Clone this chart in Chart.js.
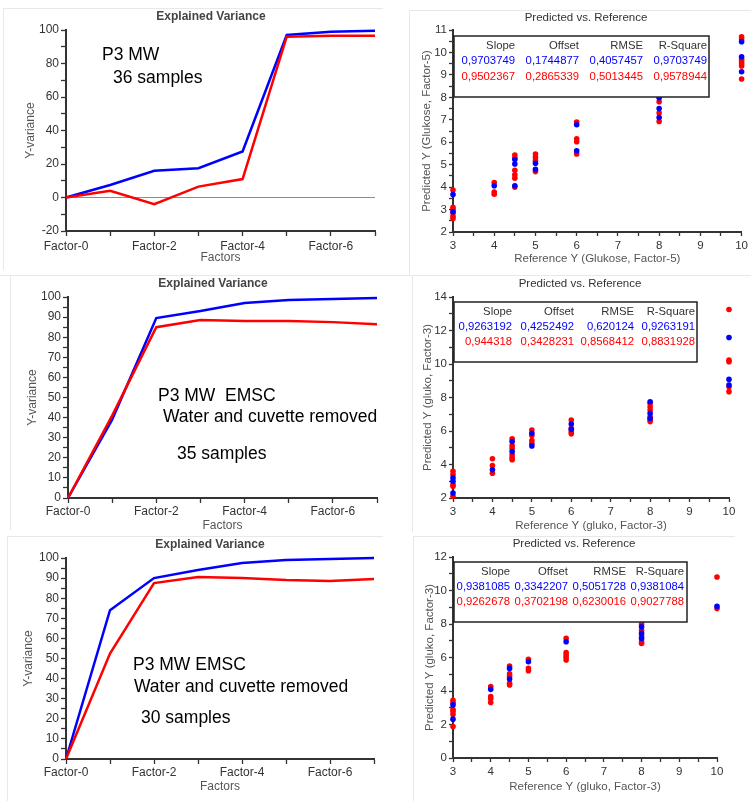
<!DOCTYPE html>
<html>
<head>
<meta charset="utf-8">
<script src="https://cdn.jsdelivr.net/npm/chart.js@4/dist/chart.umd.min.js"></script>
<style>
  html, body { margin: 0; padding: 0; background: #fff; }
  #wrap { position: relative; width: 751px; height: 801px; overflow: hidden; background: #fff; }
  #wrap canvas { position: absolute; left: 0; top: 0; }
  .rule { position: absolute; background: #e8e8e8; }
</style>
</head>
<body>
<div id="wrap">
  <div class="rule" style="left:3px;top:8px;width:1px;height:262px"></div>
  <div class="rule" style="left:3px;top:8px;width:380px;height:1px"></div>
  <div class="rule" style="left:409px;top:10px;width:1px;height:265px"></div>
  <div class="rule" style="left:409px;top:10px;width:342px;height:1px"></div>
  <div class="rule" style="left:0;top:275px;width:751px;height:1px"></div>
  <div class="rule" style="left:10px;top:276px;width:1px;height:254px"></div>
  <div class="rule" style="left:412px;top:276px;width:1px;height:256px"></div>
  <div class="rule" style="left:7px;top:536px;width:1px;height:265px"></div>
  <div class="rule" style="left:7px;top:536px;width:376px;height:1px"></div>
  <div class="rule" style="left:413px;top:536px;width:1px;height:265px"></div>
  <div class="rule" style="left:413px;top:536px;width:322px;height:1px"></div>
  <canvas id="c1" width="751" height="801"></canvas>
  <canvas id="c2" width="751" height="801"></canvas>
  <canvas id="c3" width="751" height="801"></canvas>
  <canvas id="c4" width="751" height="801"></canvas>
  <canvas id="c5" width="751" height="801"></canvas>
  <canvas id="c6" width="751" height="801"></canvas>
</div>
<script>
// ---- Explained variance curves (calibration = blue, validation = red) ----
const factorLabels = ['Factor-0', 'Factor-1', 'Factor-2', 'Factor-3', 'Factor-4', 'Factor-5', 'Factor-6', 'Factor-7'];

const calVar1 = [0, 7.5, 16, 17.5, 27.5, 97, 99, 99.5];
const valVar1 = [0, 4, -4, 6.5, 11, 96, 96.5, 96.5];

const calVar3 = [0, 39, 89.5, 93, 97, 98.5, 99, 99.5];
const valVar3 = [0, 41, 85, 88.5, 88, 88, 87.5, 86.5];

const calVar5 = [0, 74, 90, 94, 97.5, 99, 99.5, 100];
const valVar5 = [0, 52.5, 87.5, 90.5, 90, 89, 88.5, 89.5];

// ---- Predicted vs. reference (Glukose, Factor-5) ----
const calRef2  = [3, 3, 4, 4.5, 4.5, 4.5, 5, 5, 6, 6, 8, 8, 8, 10, 10, 10];
const calPred2 = [3.67, 2.9, 4.06, 5.23, 5.03, 4.06, 5.06, 4.79, 6.78, 5.62, 7.98, 7.5, 7.1, 10.48, 9.81, 9.14];
const valRef2  = [3, 3, 3, 3, 3, 3, 4, 4, 4, 4.5, 4.5, 4.5, 4.5, 4.5, 4.5, 5, 5, 5, 5, 6, 6, 6, 6, 8, 8, 8, 8, 10, 10, 10, 10, 10, 10, 10];
const valPred2 = [3.87, 3.1, 3.0, 2.85, 2.7, 2.6, 4.2, 3.78, 3.68, 5.43, 5.3, 4.75, 4.55, 4.4, 4.0, 5.47, 5.33, 5.18, 4.69, 6.9, 6.15, 6.02, 5.48, 8.03, 7.8, 7.3, 6.92, 10.7, 10.6, 9.7, 9.6, 9.5, 9.4, 8.82];

// ---- Predicted vs. reference (gluko, Factor-3), 35 samples ----
const calRef4  = [3, 3, 3, 4, 4.5, 4.5, 5, 5, 6, 6, 8, 8, 8, 10, 10, 10];
const calPred4 = [3.2, 3.0, 2.3, 3.68, 5.37, 4.77, 5.87, 5.11, 6.42, 6.1, 7.75, 7.06, 6.75, 11.58, 9.08, 8.74];
const valRef4  = [3, 3, 3, 3, 3, 4, 4, 4, 4.5, 4.5, 4.5, 4.5, 4.5, 4.5, 5, 5, 5, 5, 6, 6, 6, 6, 8, 8, 8, 8, 8, 8, 10, 10, 10, 10, 10];
const valPred4 = [3.6, 3.4, 2.8, 2.7, 2.1, 4.34, 3.94, 3.48, 5.53, 5.13, 4.97, 4.58, 4.42, 4.28, 6.06, 5.73, 5.43, 5.27, 6.66, 6.16, 5.96, 5.83, 7.65, 7.45, 7.25, 6.86, 6.7, 6.56, 13.25, 10.23, 10.13, 8.64, 8.35];

// ---- Predicted vs. reference (gluko, Factor-3), 30 samples ----
const calRef6  = [3, 3, 4, 4.5, 4.5, 5, 6, 8, 8, 8, 10];
const calPred6 = [3.17, 2.32, 4.1, 5.35, 4.72, 5.75, 6.94, 7.83, 7.44, 7.14, 9.06];
const valRef6  = [3, 3, 3, 3, 3, 3, 4, 4, 4, 4, 4.5, 4.5, 4.5, 4.5, 4.5, 5, 5, 5, 6, 6, 6, 6, 6, 8, 8, 8, 8, 8, 10, 10];
const valPred6 = [3.45, 3.3, 2.9, 2.77, 2.6, 1.88, 4.26, 3.67, 3.53, 3.31, 5.49, 5.02, 4.86, 4.46, 4.36, 5.89, 5.35, 5.21, 7.14, 6.29, 6.15, 6.01, 5.85, 7.99, 7.63, 7.28, 6.94, 6.84, 10.81, 8.92];

// ---- Regression statistics tables ----
const statHeads = ['Slope', 'Offset', 'RMSE', 'R-Square'];
const statCal2 = ['0,9703749', '0,1744877', '0,4057457', '0,9703749'];
const statVal2 = ['0,9502367', '0,2865339', '0,5013445', '0,9578944'];
const statCal4 = ['0,9263192', '0,4252492', '0,620124', '0,9263191'];
const statVal4 = ['0,944318', '0,3428231', '0,8568412', '0,8831928'];
const statCal6 = ['0,9381085', '0,3342207', '0,5051728', '0,9381084'];
const statVal6 = ['0,9262678', '0,3702198', '0,6230016', '0,9027788'];

const BLUE = '#0000ff';
const RED = '#ff0000';
const AXIS = '#333333';
const FONT = '"Liberation Sans", Arial, sans-serif';
const PAGE_W = 751, PAGE_H = 801;

Chart.defaults.font.family = FONT;
Chart.defaults.color = '#333';

// Draws panel titles, free text and the statistics box on top of each chart.
const panelText = {
  id: 'panelText',
  afterDraw(chart, args, opts) {
    const ctx = chart.ctx;
    ctx.save();
    const box = opts.box;
    if (box) {
      ctx.fillStyle = '#fff';
      ctx.fillRect(box.left, box.top, box.right - box.left, box.bottom - box.top);
      ctx.strokeStyle = '#222';
      ctx.lineWidth = 1.5;
      ctx.strokeRect(box.left, box.top, box.right - box.left, box.bottom - box.top);
      ctx.font = '11.3px ' + FONT;
      ctx.textAlign = 'right';
      ctx.textBaseline = 'middle';
      const rows = [[statHeads, '#333'], [box.cal, BLUE], [box.val, RED]];
      rows.forEach((r, i) => {
        ctx.fillStyle = r[1];
        r[0].forEach((txt, j) => ctx.fillText(txt, box.cols[j], box.rows[i]));
      });
    }
    (opts.items || []).forEach(t => {
      ctx.font = t.font;
      ctx.fillStyle = t.color || '#000';
      ctx.textAlign = t.align || 'left';
      ctx.textBaseline = t.baseline || 'alphabetic';
      ctx.fillText(t.text, t.x, t.y);
    });
    ctx.restore();
  }
};

function frame(area, yW, xH) {
  return {
    left: area.x0 - yW,
    top: area.y0,
    right: PAGE_W - area.x1,
    bottom: PAGE_H - area.y1 - xH
  };
}

function axisCommon(tickLen, pad, fontSize) {
  return {
    border: { display: true, color: AXIS, width: 2 },
    grid: { display: true, drawOnChartArea: false, drawTicks: true, tickLength: tickLen, tickColor: AXIS, tickWidth: 1.3 },
    ticks: { autoSkip: false, maxRotation: 0, padding: pad, color: '#333', font: { size: fontSize } }
  };
}

function varianceChart(id, cal, val, yMin, yStep, labelStep, area, yW, xH, xPad, items, zeroLine) {
  const xAx = axisCommon(5, xPad, 12);
  xAx.type = 'category';
  xAx.offset = false;
  xAx.grid.offset = false;
  xAx.ticks.callback = function (v, i) { return i % 2 === 0 ? this.getLabelForValue(v) : ''; };
  xAx.title = { display: true, text: 'Factors', color: '#555', font: { size: 12 }, padding: 0 };
  xAx.afterFit = s => { s.height = xH; };

  const yAx = axisCommon(5, 2, 12);
  yAx.type = 'linear';
  yAx.min = yMin;
  yAx.max = 100;
  yAx.ticks.stepSize = yStep;
  yAx.ticks.callback = v => (Math.round(v) % labelStep === 0 ? v : '');
  yAx.title = { display: true, text: 'Y-variance', color: '#555', font: { size: 12 }, padding: 0 };
  yAx.afterFit = s => { s.width = yW; };
  if (zeroLine) {
    yAx.grid.drawOnChartArea = true;
    yAx.grid.color = c => (c.tick && c.tick.value === 0 ? '#8c8c8c' : 'rgba(0,0,0,0)');
    yAx.grid.lineWidth = 1;
  }

  return new Chart(document.getElementById(id), {
    type: 'line',
    data: {
      labels: factorLabels,
      datasets: [
        { label: 'Validation', data: val, borderColor: RED, borderWidth: 2.5, pointRadius: 0, tension: 0, fill: false, clip: false },
        { label: 'Calibration', data: cal, borderColor: BLUE, borderWidth: 2.5, pointRadius: 0, tension: 0, fill: false, clip: false }
      ]
    },
    options: {
      responsive: false,
      animation: false,
      events: [],
      layout: { padding: frame(area, yW, xH) },
      plugins: { legend: { display: false }, tooltip: { enabled: false }, panelText: { items } },
      scales: { x: xAx, y: yAx }
    },
    plugins: [panelText]
  });
}

function pairs(xs, ys) { return xs.map((x, i) => ({ x, y: ys[i] })); }

function scatterChart(id, cal, val, yMin, yMax, yStep, labelStep, xTitle, yTitle, area, yW, xH, box, items) {
  const xAx = axisCommon(4, 3, 11.5);
  xAx.type = 'linear';
  xAx.min = 3;
  xAx.max = 10;
  xAx.ticks.stepSize = 0.5;
  xAx.ticks.callback = v => (Number.isInteger(v) ? v : '');
  xAx.title = { display: true, text: xTitle, color: '#555', font: { size: 11.5 }, padding: 0 };
  xAx.afterFit = s => { s.height = xH; };

  const yAx = axisCommon(4, 2, 11.5);
  yAx.type = 'linear';
  yAx.min = yMin;
  yAx.max = yMax;
  yAx.ticks.stepSize = yStep;
  yAx.ticks.callback = v => (Math.abs(v / labelStep - Math.round(v / labelStep)) < 1e-6 ? v : '');
  yAx.title = { display: true, text: yTitle, color: '#555', font: { size: 11.5 }, padding: 0 };
  yAx.afterFit = s => { s.width = yW; };

  return new Chart(document.getElementById(id), {
    type: 'scatter',
    data: {
      datasets: [
        { label: 'Calibration', data: cal, backgroundColor: BLUE, borderWidth: 0, pointRadius: 2.8, clip: false },
        { label: 'Validation', data: val, backgroundColor: RED, borderWidth: 0, pointRadius: 2.8, clip: false }
      ]
    },
    options: {
      responsive: false,
      animation: false,
      events: [],
      layout: { padding: frame(area, yW, xH) },
      plugins: { legend: { display: false }, tooltip: { enabled: false }, panelText: { items, box } },
      scales: { x: xAx, y: yAx }
    },
    plugins: [panelText]
  });
}

const titleBold = 'bold 12px ' + FONT;
const titlePlain = '11.5px ' + FONT;
const note = '17.5px ' + FONT;

// Top row
varianceChart('c1', calVar1, valVar1, -20, 10, 20,
  { x0: 66, x1: 375, y0: 30, y1: 231 }, 43, 34, 3.5,
  [
    { text: 'Explained Variance', x: 211, y: 17, font: titleBold, color: '#444', align: 'center', baseline: 'middle' },
    { text: 'P3 MW', x: 102, y: 60, font: note },
    { text: '36 samples', x: 113, y: 83, font: note }
  ], true);

scatterChart('c2', pairs(calRef2, calPred2), pairs(valRef2, valPred2), 2, 11, 0.5, 1,
  'Reference Y (Glukose, Factor-5)', 'Predicted Y (Glukose, Factor-5)',
  { x0: 453, x1: 743, y0: 30, y1: 232 }, 33, 34,
  { left: 454, top: 36, right: 709, bottom: 97, rows: [46, 61, 77], cols: [515, 579, 643, 707], cal: statCal2, val: statVal2 },
  [{ text: 'Predicted vs. Reference', x: 586, y: 18, font: titlePlain, color: '#333', align: 'center', baseline: 'middle' }]);

// Middle row
varianceChart('c3', calVar3, valVar3, 0, 5, 10,
  { x0: 68, x1: 377, y0: 297, y1: 498 }, 43, 35, 1.5,
  [
    { text: 'Explained Variance', x: 213, y: 284, font: titleBold, color: '#444', align: 'center', baseline: 'middle' },
    { text: 'P3 MW  EMSC', x: 158, y: 401, font: note },
    { text: 'Water and cuvette removed', x: 163, y: 422, font: note },
    { text: '35 samples', x: 177, y: 459, font: note }
  ], false);

scatterChart('c4', pairs(calRef4, calPred4), pairs(valRef4, valPred4), 2, 14, 1, 2,
  'Reference Y (gluko, Factor-3)', 'Predicted Y (gluko, Factor-3)',
  { x0: 453, x1: 729, y0: 297, y1: 498 }, 32, 35,
  { left: 454, top: 302, right: 697, bottom: 362, rows: [312, 327, 342], cols: [512, 574, 634, 695], cal: statCal4, val: statVal4 },
  [{ text: 'Predicted vs. Reference', x: 580, y: 284, font: titlePlain, color: '#333', align: 'center', baseline: 'middle' }]);

// Bottom row
varianceChart('c5', calVar5, valVar5, 0, 5, 10,
  { x0: 66, x1: 374, y0: 558, y1: 759 }, 45, 35, 1.5,
  [
    { text: 'Explained Variance', x: 210, y: 545, font: titleBold, color: '#444', align: 'center', baseline: 'middle' },
    { text: 'P3 MW EMSC', x: 133, y: 670, font: note },
    { text: 'Water and cuvette removed', x: 134, y: 692, font: note },
    { text: '30 samples', x: 141, y: 723, font: note }
  ], false);

scatterChart('c6', pairs(calRef6, calPred6), pairs(valRef6, valPred6), 0, 12, 1, 2,
  'Reference Y (gluko, Factor-3)', 'Predicted Y (gluko, Factor-3)',
  { x0: 453, x1: 717, y0: 557, y1: 758 }, 30, 36,
  { left: 454, top: 562, right: 687, bottom: 622, rows: [572, 587, 602], cols: [510, 568, 626, 684], cal: statCal6, val: statVal6 },
  [{ text: 'Predicted vs. Reference', x: 574, y: 544, font: titlePlain, color: '#333', align: 'center', baseline: 'middle' }]);
</script>
</body>
</html>
